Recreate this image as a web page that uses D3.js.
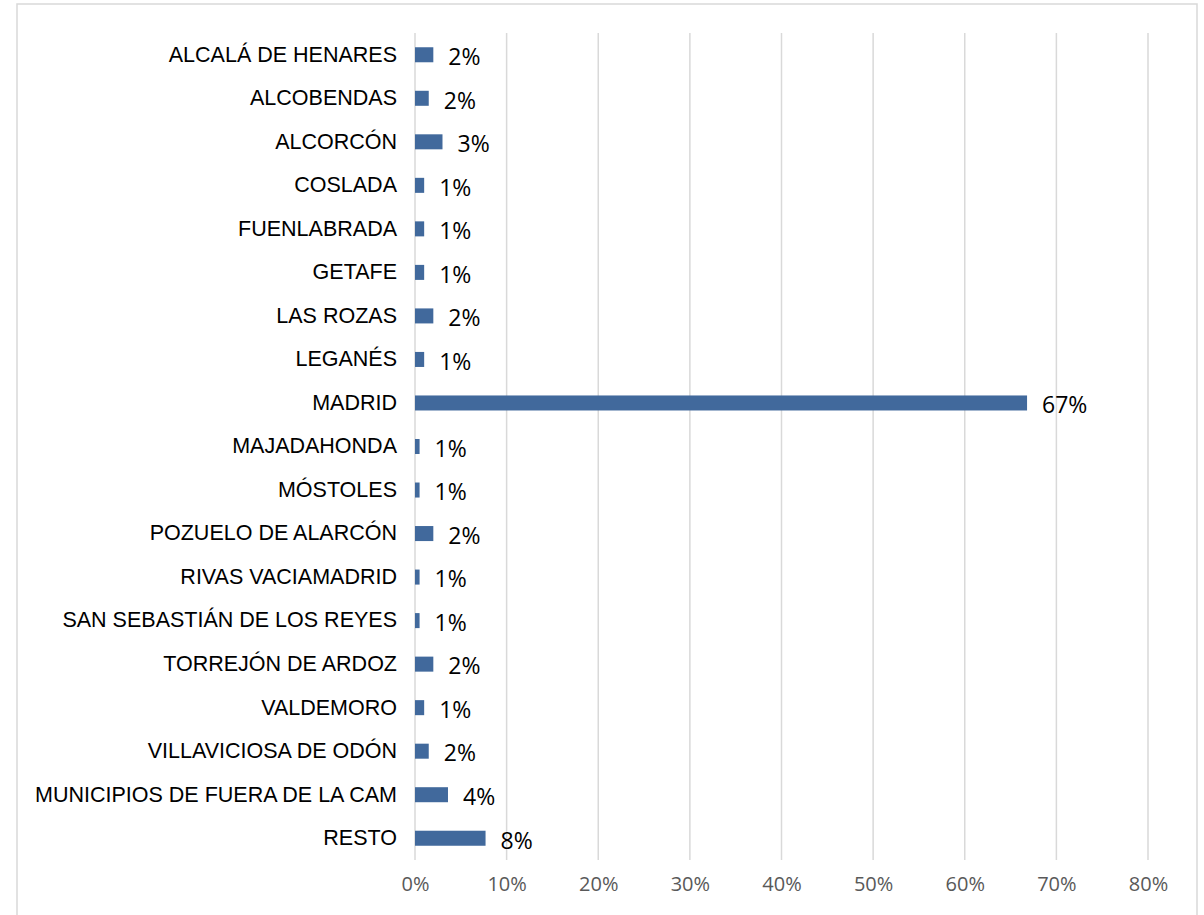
<!DOCTYPE html>
<html>
<head>
<meta charset="utf-8">
<script src="https://cdn.jsdelivr.net/npm/d3@7"></script>
<style>
  html, body { margin: 0; padding: 0; background: #fff; }
  svg { display: block; }
</style>
</head>
<body>
<svg id="chart" width="1204" height="915"></svg>
<script>
const categories = [
  "ALCALÁ DE HENARES", "ALCOBENDAS", "ALCORCÓN", "COSLADA", "FUENLABRADA",
  "GETAFE", "LAS ROZAS", "LEGANÉS", "MADRID", "MAJADAHONDA", "MÓSTOLES",
  "POZUELO DE ALARCÓN", "RIVAS VACIAMADRID", "SAN SEBASTIÁN DE LOS REYES",
  "TORREJÓN DE ARDOZ", "VALDEMORO", "VILLAVICIOSA DE ODÓN",
  "MUNICIPIOS DE FUERA DE LA CAM", "RESTO"
];
const values = [
  0.020, 0.015, 0.030, 0.010, 0.010,
  0.010, 0.020, 0.010, 0.668, 0.005, 0.005,
  0.020, 0.005, 0.005,
  0.020, 0.010, 0.015,
  0.036, 0.077
];
const valueLabels = [
  "2%", "2%", "3%", "1%", "1%",
  "1%", "2%", "1%", "67%", "1%", "1%",
  "2%", "1%", "1%",
  "2%", "1%", "2%",
  "4%", "8%"
];
const tickValues = [0, 0.1, 0.2, 0.3, 0.4, 0.5, 0.6, 0.7, 0.8];
const tickLabels = ["0%", "10%", "20%", "30%", "40%", "50%", "60%", "70%", "80%"];

const svg = d3.select("#chart");

// outer chart border
svg.append("rect")
  .attr("x", 17).attr("y", 4)
  .attr("width", 1180).attr("height", 930)
  .attr("fill", "none").attr("stroke", "#d9d9d9").attr("stroke-width", 1.5);

const x = d3.scaleLinear().domain([0, 0.8]).range([415, 1148]);
const y = d3.scaleBand().domain(categories).range([33, 860])
  .paddingInner(0.655).paddingOuter(0.3275);

// gridlines
svg.append("g").selectAll("line").data(tickValues).join("line")
  .attr("x1", d => x(d)).attr("x2", d => x(d))
  .attr("y1", 33).attr("y2", 860)
  .attr("stroke", "#d9d9d9").attr("stroke-width", 1.5);

// x tick labels
const xAxis = d3.axisBottom(x).tickValues(tickValues)
  .tickFormat((d, i) => tickLabels[i]).tickSize(0).tickPadding(0);
const gx = svg.append("g").attr("transform", "translate(0,877)").call(xAxis);
gx.select(".domain").remove();
gx.selectAll("text")
  .attr("font-family", "'Open Sans', sans-serif")
  .attr("font-size", "20px")
  .attr("fill", "#595959");

// category labels
const yAxis = d3.axisLeft(y).tickSize(0).tickPadding(0);
const gy = svg.append("g").attr("transform", "translate(397,0)").call(yAxis);
gy.select(".domain").remove();
gy.selectAll("text")
  .attr("font-family", "'Liberation Sans', Arial, sans-serif")
  .attr("font-size", "21.5px")
  .attr("fill", "#000");

// bars
svg.append("g").selectAll("rect").data(values).join("rect")
  .attr("x", x(0))
  .attr("y", (d, i) => y(categories[i]))
  .attr("width", d => x(d) - x(0))
  .attr("height", y.bandwidth())
  .attr("fill", "#41699c");

// data labels
svg.append("g").selectAll("text").data(values).join("text")
  .attr("x", d => x(d) + 15)
  .attr("y", (d, i) => y(categories[i]) + y.bandwidth() / 2 + 2)
  .attr("dy", "0.36em")
  .attr("font-family", "'Open Sans', sans-serif")
  .attr("font-size", "23px")
  .attr("fill", "#000")
  .text((d, i) => valueLabels[i]);
</script>
</body>
</html>
